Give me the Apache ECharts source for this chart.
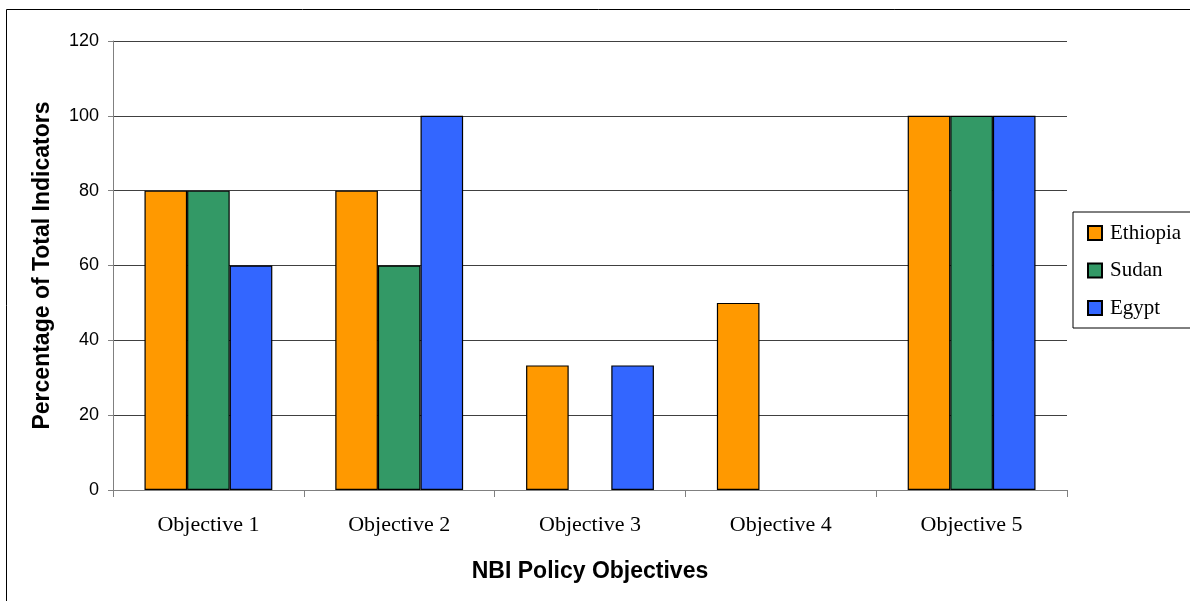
<!DOCTYPE html>
<html>
<head>
<meta charset="utf-8">
<script src="https://cdn.jsdelivr.net/npm/echarts@6/dist/echarts.min.js"></script>
<style>
  html, body { margin: 0; padding: 0; background: #fff; }
  #chart { width: 1190px; height: 601px; }
</style>
</head>
<body>
<div id="chart"></div>
<script>
// NBI policy objectives: share of total indicators per country
const categories = ['Objective 1', 'Objective 2', 'Objective 3', 'Objective 4', 'Objective 5'];
const ethiopia = [80, 80, 33.3, 50, 100];
const sudan = [80, 60, 0, 0, 100];
const egypt = [60, 100, 33.3, 0, 100];
const yTicks = [0, 20, 40, 60, 80, 100, 120];

const colors = { Ethiopia: '#FF9900', Sudan: '#339966', Egypt: '#3366FF' };

function bar(name, data) {
  return {
    name: name,
    type: 'bar',
    // zero-height bars get no outline so nothing shows on the baseline
    data: data.map(v => v === 0 ? { value: 0, itemStyle: { borderWidth: 0 } } : v),
    barGap: '0%',
    barCategoryGap: '33%',
    itemStyle: { color: colors[name], borderColor: '#000', borderWidth: 1.2 }
  };
}

const chart = echarts.init(document.getElementById('chart'), null, { renderer: 'canvas' });
chart.setOption({
  animation: false,
  backgroundColor: '#fff',
  graphic: [{
    type: 'rect',
    shape: { x: 6.5, y: 9.5, width: 1200, height: 620 },
    style: { fill: 'none', stroke: '#000', lineWidth: 1 },
    silent: true,
    z: -10
  }],
  grid: { left: 113, right: 123, top: 41, bottom: 111 },
  legend: {
    orient: 'vertical',
    left: 1073,
    top: 212,
    padding: [10, 10, 9, 14],
    itemGap: 15.5,
    itemWidth: 14,
    itemHeight: 14,
    icon: 'rect',
    borderColor: '#000',
    borderWidth: 1,
    backgroundColor: '#fff',
    textStyle: { fontFamily: 'Liberation Serif', fontSize: 21, lineHeight: 22, color: '#000', padding: [0, 0, 0, 3] },
    data: ['Ethiopia', 'Sudan', 'Egypt']
  },
  xAxis: {
    type: 'category',
    data: categories,
    name: 'NBI Policy Objectives',
    nameLocation: 'middle',
    nameGap: 70,
    nameTextStyle: { fontFamily: 'Liberation Sans', fontWeight: 'bold', fontSize: 23, color: '#000' },
    axisLine: { lineStyle: { color: '#808080', width: 1 } },
    axisTick: { show: true, alignWithLabel: false, length: 7, lineStyle: { color: '#808080' } },
    axisLabel: { fontFamily: 'Liberation Serif', fontSize: 22, color: '#000', margin: 24 }
  },
  yAxis: {
    type: 'value',
    min: yTicks[0],
    max: yTicks[yTicks.length - 1],
    interval: 20,
    name: 'Percentage of Total Indicators',
    nameLocation: 'middle',
    nameGap: 59,
    nameTextStyle: { fontFamily: 'Liberation Sans', fontWeight: 'bold', fontSize: 23, color: '#000' },
    axisLine: { show: true, lineStyle: { color: '#808080', width: 1 } },
    axisTick: { show: true, length: 5, lineStyle: { color: '#808080' } },
    axisLabel: { fontFamily: 'Liberation Sans', fontSize: 18, color: '#000', margin: 14 },
    splitLine: { lineStyle: { color: '#404040', width: 1 } }
  },
  series: [
    bar('Ethiopia', ethiopia),
    bar('Sudan', sudan),
    bar('Egypt', egypt)
  ]
});
</script>
</body>
</html>
